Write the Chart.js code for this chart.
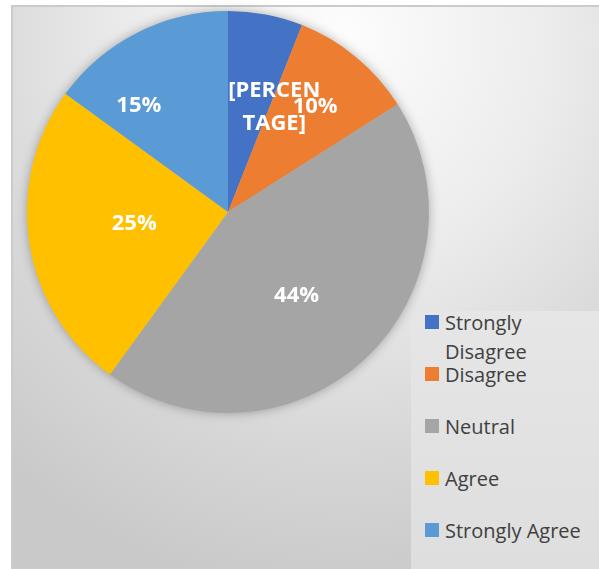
<!DOCTYPE html>
<html>
<head>
<meta charset="utf-8">
<script src="https://cdn.jsdelivr.net/npm/chart.js@4.4.1/dist/chart.umd.min.js"></script>
<style>
  html, body { margin: 0; padding: 0; background: #fff; }
  #wrap { position: relative; width: 599px; height: 569px; overflow: hidden; }
  #frame {
    position: absolute; left: 11px; top: 5px; width: 586px; height: 561px;
    border: 2px solid #cbcbcb;
    background: radial-gradient(ellipse 520px 560px at 330px 30px, #fdfdfd 0%, #ececec 40%, #d6d6d6 75%, #c9c9c9 100%);
  }
  #legendBox {
    position: absolute; left: 411px; top: 311px; width: 188px; height: 258px;
    background: linear-gradient(180deg, #e6e6e6, #dedede);
  }
  .item { position: absolute; left: 14px; width: 172px; }
  .swatch { position: absolute; left: 0; top: 7px; width: 14px; height: 14px; }
  .text {
    margin-left: 20px; width: 152px;
    font-family: 'Open Sans', sans-serif; font-size: 20px; line-height: 29px; color: #404040;
  }
  canvas { position: absolute; left: 0; top: 0; }
</style>
</head>
<body>
<div id="wrap">
  <div id="frame"></div>
  <div id="legendBox"></div>
  <canvas id="chart" width="599" height="569"></canvas>
</div>
<script>
'use strict';

// Survey answers, in percent
const answers = ['Strongly Disagree', 'Disagree', 'Neutral', 'Agree', 'Strongly Agree'];
const shares = [6, 10, 44, 25, 15];
// first slice shows the unfilled placeholder instead of its number
const sliceLabels = [['[PERCEN', 'TAGE]'], ['10%'], ['44%'], ['25%'], ['15%']];

const sliceColors = ['#4472C4', '#ED7D31', '#A5A5A5', '#FFC000', '#5B9BD5'];

// where each label sits: share of radius, and turn off the mid angle (degrees)
const labelRadius = [0.57, 0.68, 0.54, 0.47, 0.69];
const labelTurn = [13, 0, 4, 2, -13];

// legend, one row every 52px
let legendBox = document.getElementById('legendBox');
for (let i = 0; i < answers.length; i++) {
  let item = document.createElement('div');
  item.className = 'item';
  item.style.top = (i * 52) - 3 + 'px';
  let swatch = document.createElement('div');
  swatch.className = 'swatch';
  swatch.style.background = sliceColors[i];
  let text = document.createElement('div');
  text.className = 'text';
  text.textContent = answers[i];
  item.appendChild(swatch);
  item.appendChild(text);
  legendBox.appendChild(item);
}

// soft shadow under the whole pie
const pieShadow = {
  id: 'pieShadow',
  beforeDatasetsDraw(chart) {
    let arc = chart.getDatasetMeta(0).data[0];
    if (!arc) return;
    let ctx = chart.ctx;
    ctx.save();
    ctx.shadowColor = 'rgba(0, 0, 0, 0.35)';
    ctx.shadowBlur = 12;
    ctx.fillStyle = '#bbbbbb';
    ctx.beginPath();
    ctx.arc(arc.x, arc.y, arc.outerRadius - 1, 0, Math.PI * 2);
    ctx.fill();
    ctx.restore();
  }
};

// white percentage labels inside the slices
const sliceText = {
  id: 'sliceText',
  afterDatasetsDraw(chart) {
    let ctx = chart.ctx;
    let arcs = chart.getDatasetMeta(0).data;
    ctx.save();
    ctx.fillStyle = '#ffffff';
    ctx.font = 'bold 22px "Open Sans"';
    ctx.textAlign = 'center';
    ctx.textBaseline = 'middle';
    for (let i = 0; i < arcs.length; i++) {
      let a = arcs[i];
      let mid = (a.startAngle + a.endAngle) / 2 + labelTurn[i] * Math.PI / 180;
      let r = a.outerRadius * labelRadius[i];
      let cx = a.x + Math.cos(mid) * r;
      let cy = a.y + Math.sin(mid) * r;
      let lines = sliceLabels[i];
      let lineH = 33;
      let top = cy - (lines.length - 1) * lineH / 2;
      for (let j = 0; j < lines.length; j++) {
        ctx.fillText(lines[j], cx, top + j * lineH);
      }
    }
    ctx.restore();
  }
};

const ctx = document.getElementById('chart').getContext('2d');

let myChart = new Chart(ctx, {
  type: 'pie',
  data: {
    labels: answers,
    datasets: [{
      data: shares,
      backgroundColor: sliceColors,
      borderWidth: 0
    }]
  },
  options: {
    responsive: false,
    animation: false,
    layout: {
      padding: { left: 27, top: 11, right: 170, bottom: 156 }
    },
    plugins: {
      legend: { display: false },
      tooltip: { enabled: false }
    }
  },
  plugins: [pieShadow, sliceText]
});
</script>
</body>
</html>
